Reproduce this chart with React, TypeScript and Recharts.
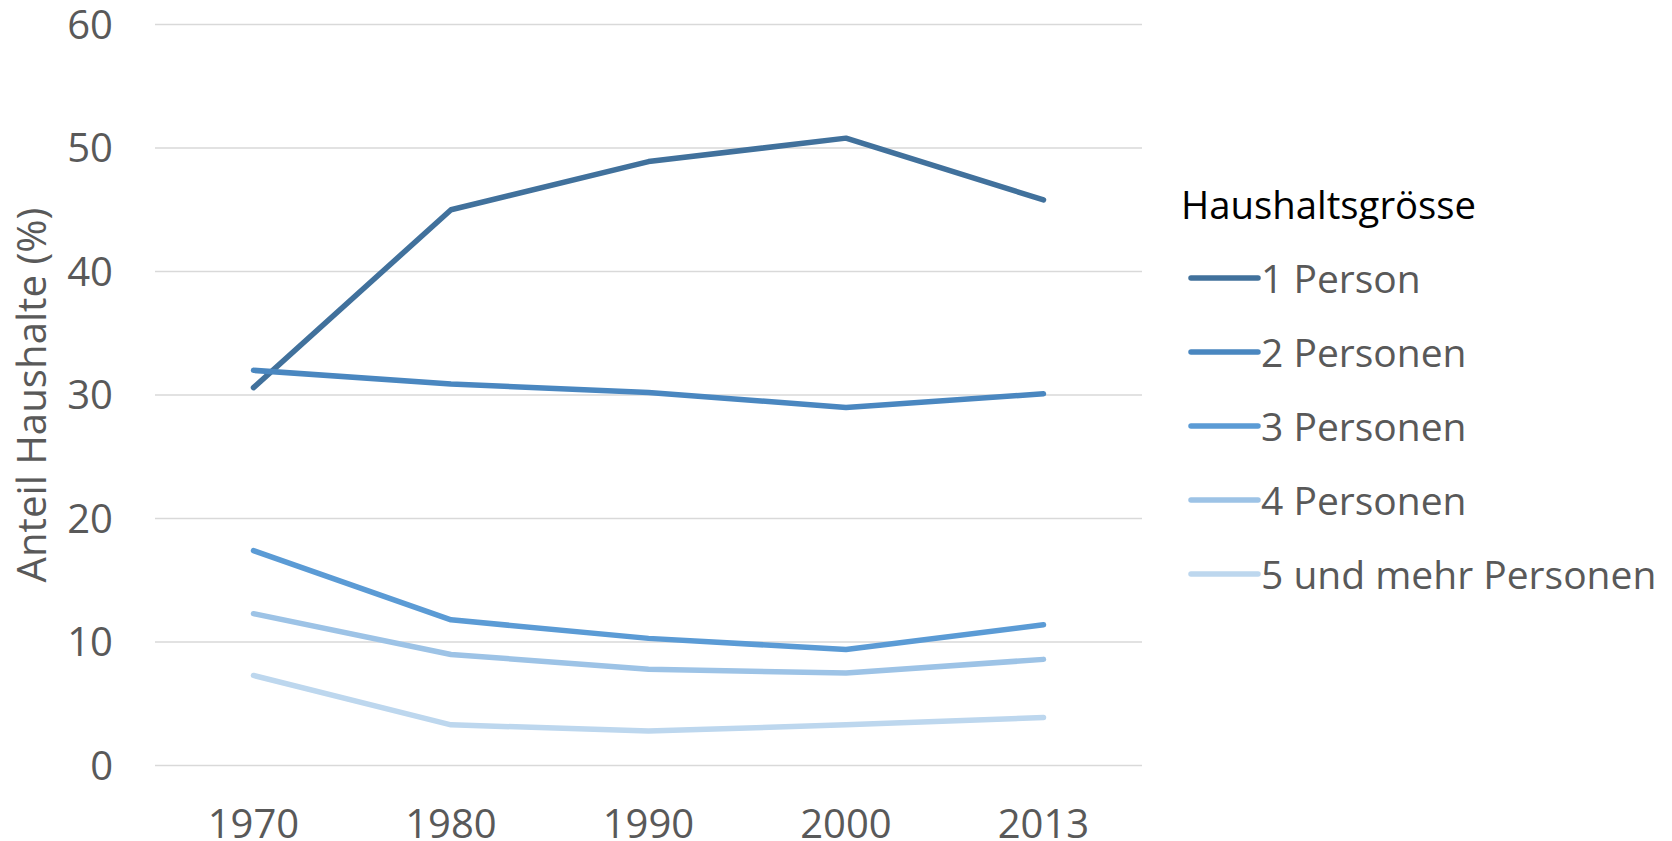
import React from 'react';
import { LineChart, Line, XAxis, YAxis, CartesianGrid } from 'recharts';

const years = ['1970', '1980', '1990', '2000', '2013'];
const onePerson = [30.6, 45.0, 48.9, 50.8, 45.8];
const twoPersons = [32.0, 30.9, 30.2, 29.0, 30.1];
const threePersons = [17.4, 11.8, 10.3, 9.4, 11.4];
const fourPersons = [12.3, 9.0, 7.8, 7.5, 8.6];
const fivePlus = [7.3, 3.3, 2.8, 3.3, 3.9];
const yTicks = [0, 10, 20, 30, 40, 50, 60];

const legendTitle = 'Haushaltsgrösse';
const seriesNames = ['1 Person', '2 Personen', '3 Personen', '4 Personen', '5 und mehr Personen'];
const seriesKeys = ['p1', 'p2', 'p3', 'p4', 'p5'];
const seriesColors = ['#41719C', '#4A87C0', '#5B9BD5', '#9DC3E6', '#BDD7EE'];
const seriesValues = [onePerson, twoPersons, threePersons, fourPersons, fivePlus];

const data = years.map((y, i) => {
  const row: Record<string, string | number> = { year: y };
  seriesKeys.forEach((k, j) => {
    row[k] = seriesValues[j][i];
  });
  return row;
});

const FONT = '"Open Sans", sans-serif';

const YLabel = (props: any) => {
  const vb = props.viewBox || { x: 0, y: 0, width: 0, height: 0 };
  const cx = 31;
  const cy = vb.y + vb.height / 2;
  return (
    <text
      x={cx}
      y={cy}
      transform={`rotate(-90 ${cx} ${cy})`}
      textAnchor="middle"
      dominantBaseline="central"
      fill="#595959"
      fontSize={40.2}
      fontFamily={FONT}
    >
      Anteil Haushalte (%)
    </text>
  );
};

const LegendBox = () => (
  <div style={{ position: 'absolute', left: 1181, top: 167, width: 491, fontFamily: FONT }}>
    <div style={{ color: '#000', fontSize: 38.3, height: 74, lineHeight: '74px', whiteSpace: 'nowrap' }}>
      {legendTitle}
    </div>
    {seriesNames.map((n, i) => (
      <div key={n} style={{ display: 'flex', alignItems: 'center', height: 73.9, whiteSpace: 'nowrap' }}>
        <svg width={80} height={12} style={{ display: 'block', flex: 'none' }}>
          <line x1={10} y1={6} x2={77} y2={6} stroke={seriesColors[i]} strokeWidth={5.5} strokeLinecap="round" />
        </svg>
        <span style={{ color: '#595959', fontSize: 39, lineHeight: '74px' }}>{n}</span>
      </div>
    ))}
  </div>
);

export default function App() {
  return (
    <div style={{ position: 'absolute', left: 0, top: 0, width: 1672, height: 841, background: '#fff', overflow: 'hidden' }}>
      <LineChart
        width={1672}
        height={841}
        data={data}
        margin={{ top: 24.5, right: 530, bottom: 0, left: 0 }}
      >
        <CartesianGrid vertical={false} stroke="#D9D9D9" strokeWidth={1.5} />
        <XAxis
          dataKey="year"
          axisLine={false}
          tickLine={false}
          height={75.4}
          padding={{ left: 98.5, right: 98.5 }}
          tickMargin={38}
          tick={{ fill: '#595959', fontSize: 40, fontFamily: FONT }}
          interval={0}
        />
        <YAxis
          width={155}
          domain={[0, 60]}
          ticks={yTicks}
          axisLine={false}
          tickLine={false}
          tickMargin={36}
          tick={{ fill: '#595959', fontSize: 40, fontFamily: FONT }}
          label={<YLabel />}
        />
        {seriesKeys.map((k, i) => (
          <Line
            key={k}
            type="linear"
            dataKey={k}
            name={seriesNames[i]}
            stroke={seriesColors[i]}
            strokeWidth={5.5}
            strokeLinecap="round"
            strokeLinejoin="round"
            dot={false}
            activeDot={false}
            isAnimationActive={false}
          />
        ))}
      </LineChart>
      <LegendBox />
    </div>
  );
}
